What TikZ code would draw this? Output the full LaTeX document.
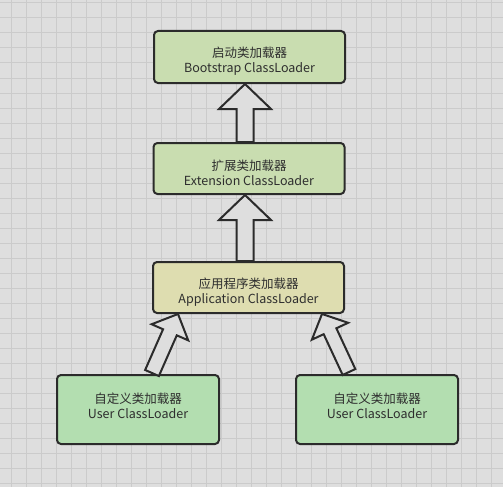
\documentclass[tikz,border=0pt]{standalone}
\usepackage{fontspec}
\setmainfont{Noto Sans CJK SC}
\usetikzlibrary{calc}
\definecolor{bg}{HTML}{DEDEDE}
\definecolor{gridc}{HTML}{CBCBCB}
\definecolor{edge}{HTML}{2B2B2B}
\definecolor{fillA}{HTML}{C9DDB0}
\definecolor{fillB}{HTML}{DEDDB0}
\definecolor{fillC}{HTML}{B3DEB0}
\definecolor{txt}{HTML}{2E2E2E}
\tikzset{
  loader/.style={draw=edge, line width=2pt, rounded corners=4pt, inner sep=0pt},
  lbl/.style={text=txt, align=center, font=\fontsize{12.5}{15}\selectfont, inner sep=0pt, yshift=-4.5pt},
  lblup/.style={lbl, yshift=8pt},
  fatarr/.style={draw=edge, fill=bg, line width=2pt, line join=miter},
}
\newcommand{\fatarrow}[5]{%
  \coordinate (#1-#2-hb) at ($(#2)!#5!(#1)$);
  \draw[fatarr] ($(#1)!#3!90:(#2)$) -- ($(#1-#2-hb)!#3!90:(#2)$) -- ($(#1-#2-hb)!#4!90:(#2)$) -- (#2)
    -- ($(#1-#2-hb)!#4!-90:(#2)$) -- ($(#1-#2-hb)!#3!-90:(#2)$) -- ($(#1)!#3!-90:(#2)$) -- cycle;}
\begin{document}
\begin{tikzpicture}[x=1pt,y=-1pt]
  \fill[bg] (0,0) rectangle (503,487);
  \useasboundingbox (0,0) rectangle (503,487);
  \foreach \i in {0,...,33} {
    \draw[gridc, line width=1pt] ({11+15*\i},0) -- ({11+15*\i},487);
  }
  \foreach \i in {0,...,32} {
    \draw[gridc, line width=1pt] (0,{3+15*\i}) -- (503,{3+15*\i});
  }
  \node[loader, fill=fillA, minimum width=191pt, minimum height=52pt,
    label={[lbl]center:{启动类加载器\\Bootstrap ClassLoader}}] (b1) at (249.5,57) {};
  \node[loader, fill=fillA, minimum width=191pt, minimum height=51pt,
    label={[lbl]center:{扩展类加载器\\Extension ClassLoader}}] (b2) at (249,168.5) {};
  \node[loader, fill=fillB, minimum width=191pt, minimum height=51pt,
    label={[lbl]center:{应用程序类加载器\\Application ClassLoader}}] (b3) at (248.5,287.5) {};
  \node[loader, fill=fillC, minimum width=162pt, minimum height=69pt,
    label={[lblup]center:{自定义类加载器\\User ClassLoader}}] (b4) at (138,409.5) {};
  \node[loader, fill=fillC, minimum width=162pt, minimum height=69pt,
    label={[lblup]center:{自定义类加载器\\User ClassLoader}}] (b5) at (377,409.5) {};
  \coordinate (s1) at (245,0 |- b2.north);
  \coordinate (t1) at (245,0 |- b1.south);
  \coordinate (s2) at (245,0 |- b3.north);
  \coordinate (t2) at (245,0 |- b2.south);
  \coordinate (s3) at (152,373);
  \coordinate (t3) at (178,0 |- b3.south);
  \coordinate (s4) at (349,372);
  \coordinate (t4) at (322,0 |- b3.south);
  \fatarrow{s1}{t1}{8.5pt}{26pt}{25pt}
  \fatarrow{s2}{t2}{8.5pt}{26pt}{25pt}
  \fatarrow{s3}{t3}{7.5pt}{20pt}{20pt}
  \fatarrow{s4}{t4}{7pt}{20pt}{19pt}
\end{tikzpicture}
\end{document}
